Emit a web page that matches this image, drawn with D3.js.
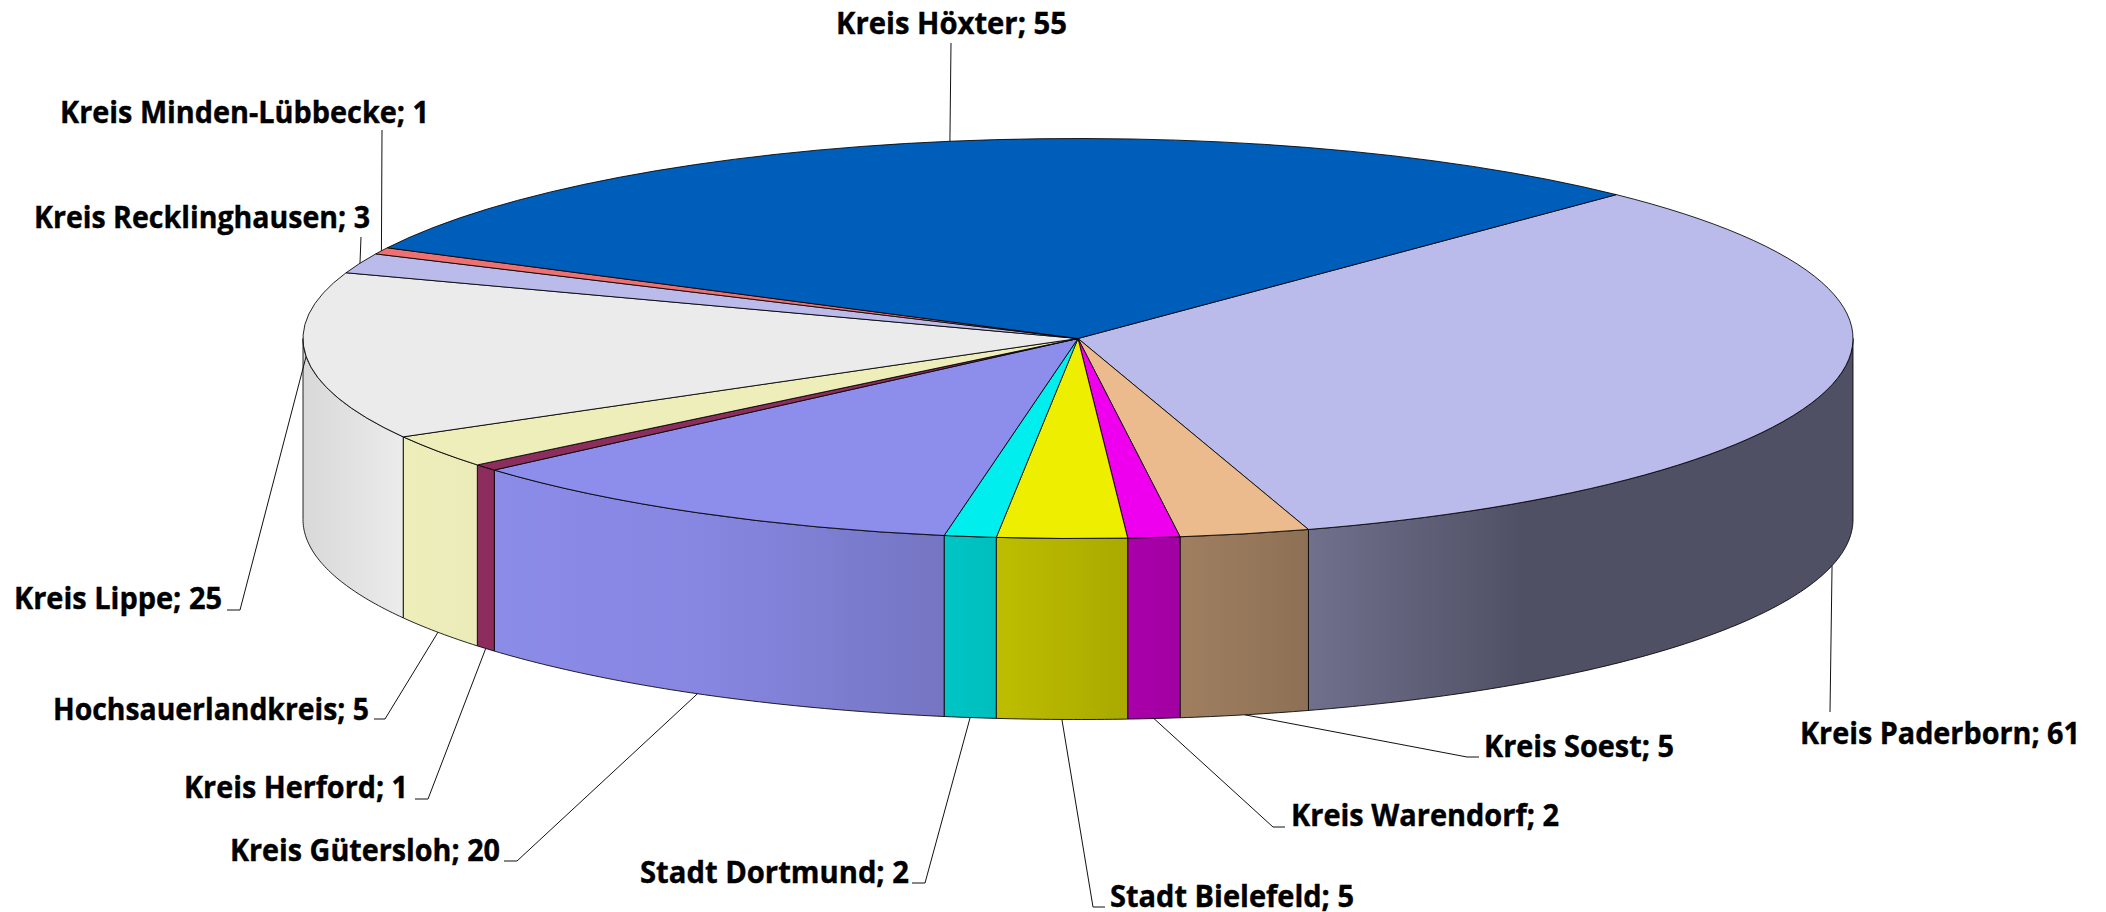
<!DOCTYPE html>
<html>
<head>
<meta charset="utf-8">
<script src="https://d3js.org/d3.v7.min.js"></script>
<style>
    html, body { margin: 0; padding: 0; background: #fff; }
    svg { display: block; }
    .label { font-family: "Open Sans", "Noto Sans", sans-serif; font-weight: 700; font-size: 30px; fill: #000; stroke: #000; stroke-width: 0.4; }
    .leader { fill: none; stroke: #111; stroke-width: 1; }
</style>
</head>
<body>
<div id="chart"></div>
<script>
// values, clockwise from the Hoexter/Paderborn edge
const districts = ['Kreis Paderborn', 'Kreis Soest', 'Kreis Warendorf', 'Stadt Bielefeld', 'Stadt Dortmund',
    'Kreis Gütersloh', 'Kreis Herford', 'Hochsauerlandkreis', 'Kreis Lippe', 'Kreis Recklinghausen',
    'Kreis Minden-Lübbecke', 'Kreis Höxter'];
const counts = [61, 5, 2, 5, 2, 20, 1, 5, 25, 3, 1, 55];
const sliceColors = ['#BBBBEB', '#EBBB8D', '#EE00EE', '#EEEE00', '#00EEEE',
    '#8D8DEB', '#8D2D5E', '#EEEEBB', '#EBEBEB', '#BBBBEB', '#EE7070', '#005EBB'];

// text box of each label: left, right, baseline
const labelBoxes = [[1800, 2080, 744], [1484, 1674, 757], [1291, 1559, 826], [1110, 1354, 907], [640, 909, 883],
    [230, 500, 861], [184, 408, 798], [53, 369, 720], [14, 222, 609], [34, 370, 228], [60, 429, 123], [836, 1067, 34]];
// leader knees: elbow point and the end next to the text
const leaderEnds = [[[1830, 712]], [[1467, 757], [1479, 757]], [[1273, 827], [1285, 827]], [[1093, 907], [1105, 907]], [[925, 883], [912, 883]],
    [[517, 861], [504, 861]], [[428, 799], [415, 799]], [[385, 719], [374, 719]], [[240, 610], [227, 610]], [[361, 237]], [[382, 130]], [[951, 43]]];

// how much the side wall is darkened along x
const shadeX = [302, 400, 700, 940, 1130, 1310, 1520, 1853];
const shadeK = [0.92, 1, 0.96, 0.83, 0.71, 0.6, 0.43, 0.43];

const width = 2106, height = 912;
const cx = 1078, cy = 338.5, rx = 775, ry = 200, depth = 181;
const firstAngle = 44 * Math.PI / 180;

const svg = d3.select('#chart').append('svg').attr('width', width).attr('height', height);
const defs = svg.append('defs');

const slices = d3.pie().sort(null)
    .startAngle(firstAngle).endAngle(firstAngle + 2 * Math.PI)(counts);

const px = a => cx + rx * Math.sin(a);
const py = a => cy - ry * Math.cos(a);

// one gradient for each slice, running over the whole width of the pie
sliceColors.forEach((color, i) => {
    const grad = defs.append('linearGradient').attr('id', `side${i}`)
        .attr('gradientUnits', 'userSpaceOnUse')
        .attr('x1', shadeX[0]).attr('x2', shadeX[shadeX.length - 1]).attr('y1', 0).attr('y2', 0);
    shadeX.forEach((x, j) => {
        const c = d3.rgb(color);
        grad.append('stop')
            .attr('offset', (x - shadeX[0]) / (shadeX[shadeX.length - 1] - shadeX[0]))
            .attr('stop-color', d3.rgb(c.r * shadeK[j], c.g * shadeK[j], c.b * shadeK[j]).formatHex());
    });
});

// side walls: only the part between 90 and 270 degrees is visible
const frontStart = Math.PI / 2, frontEnd = 3 * Math.PI / 2;
const rim = d3.line().x(d => d[0]).y(d => d[1]);

function wallPath(d) {
    const a0 = Math.max(d.startAngle, frontStart);
    const a1 = Math.min(d.endAngle, frontEnd);
    if (a1 <= a0) return null;
    const n = Math.max(2, Math.ceil((a1 - a0) / 0.01));
    const angles = d3.range(n + 1).map(k => a0 + (a1 - a0) * k / n);
    const top = angles.map(a => [px(a), py(a)]);
    const bottom = angles.slice().reverse().map(a => [px(a), py(a) + depth]);
    return rim(top.concat(bottom)) + 'Z';
}

svg.append('g').selectAll('path').data(slices).enter()
    .append('path')
    .attr('d', wallPath)
    .attr('fill', (d, i) => `url(#side${i})`)
    .attr('stroke', '#000').attr('stroke-opacity', 0.85).attr('stroke-width', 1);

// top face, circular arc squeezed into the ellipse
const arc = d3.arc().innerRadius(0).outerRadius(rx);

svg.append('g')
    .attr('transform', `translate(${cx},${cy}) scale(1,${ry / rx})`)
    .selectAll('path').data(slices).enter()
    .append('path')
    .attr('d', arc)
    .attr('fill', (d, i) => sliceColors[i])
    .attr('stroke', '#000').attr('stroke-opacity', 0.85).attr('stroke-width', 1)
    .attr('vector-effect', 'non-scaling-stroke');

// leader lines start at the middle of the slice, on the lower rim for the front ones
const leaders = svg.append('g');
slices.forEach((d, i) => {
    const mid = (d.startAngle + d.endAngle) / 2;
    const front = Math.cos(mid) < -0.1;
    const start = [px(mid), py(mid) + (front ? depth : 0)];
    leaders.append('path')
        .attr('class', 'leader')
        .attr('d', rim([start].concat(leaderEnds[i])));
});

svg.append('g').selectAll('text').data(slices).enter()
    .append('text')
    .attr('class', 'label')
    .attr('x', (d, i) => labelBoxes[i][0])
    .attr('y', (d, i) => labelBoxes[i][2])
    .attr('textLength', (d, i) => labelBoxes[i][1] - labelBoxes[i][0])
    .attr('lengthAdjust', 'spacingAndGlyphs')
    .text((d, i) => `${districts[i]}; ${d.value}`);
</script>
</body>
</html>
